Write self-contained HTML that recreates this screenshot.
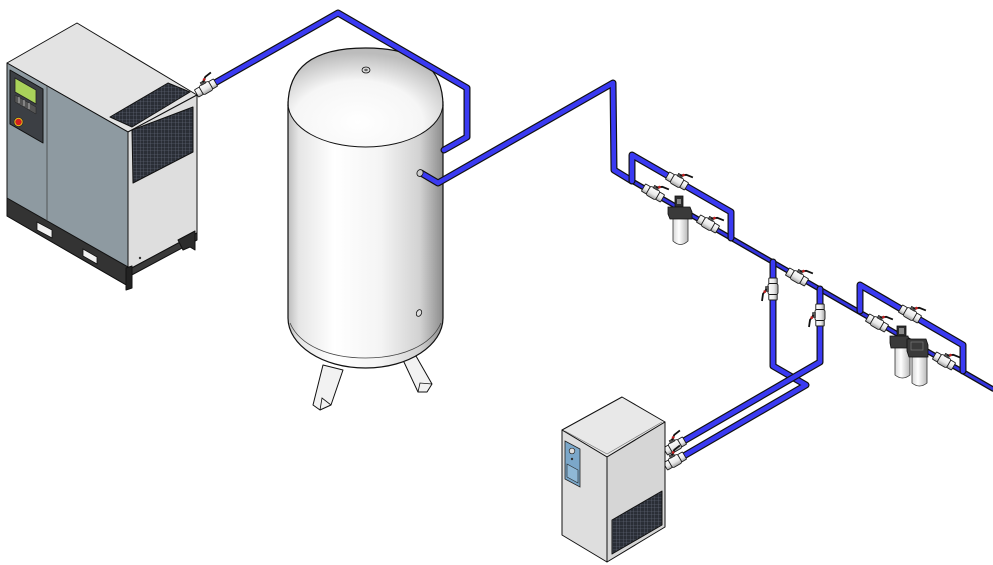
<!DOCTYPE html>
<html><head><meta charset="utf-8"><style>
html,body{margin:0;padding:0;background:#fff}
svg{display:block}
.po{fill:none;stroke:#111;stroke-width:7;stroke-linejoin:round;stroke-linecap:round}
.pi{fill:none;stroke:#3a3af2;stroke-width:4.6;stroke-linejoin:round;stroke-linecap:round}
.to{fill:none;stroke:#111;stroke-width:5.4;stroke-linecap:round}
.ti{fill:none;stroke:#3434e0;stroke-width:2.8;stroke-linecap:round}
.k{stroke:#111;stroke-width:1;stroke-linejoin:round}
</style></head><body>
<svg width="993" height="565" viewBox="0 0 993 565" xmlns="http://www.w3.org/2000/svg">
<defs>
<linearGradient id="tg" x1="0" x2="1" y1="0" y2="0">
<stop offset="0" stop-color="#bdbdbd"/><stop offset="0.07" stop-color="#e6e6e6"/>
<stop offset="0.3" stop-color="#ffffff"/><stop offset="0.6" stop-color="#f4f4f4"/>
<stop offset="0.85" stop-color="#d2d2d2"/><stop offset="1" stop-color="#8c8c8c"/>
</linearGradient>
<radialGradient id="dg" cx="0.45" cy="0.75" r="0.7">
<stop offset="0" stop-color="#ffffff"/><stop offset="0.6" stop-color="#f6f6f6"/><stop offset="1" stop-color="#bcbcbc"/>
</radialGradient>
<linearGradient id="vg" x1="0" x2="0" y1="0" y2="1">
<stop offset="0" stop-color="#ffffff"/><stop offset="0.6" stop-color="#e8e8e8"/><stop offset="1" stop-color="#a0a0a0"/>
</linearGradient>
<linearGradient id="bg" x1="0" x2="1" y1="0" y2="0">
<stop offset="0" stop-color="#d8d8d8"/><stop offset="0.4" stop-color="#ffffff"/><stop offset="1" stop-color="#b8b8b8"/>
</linearGradient>
<pattern id="grid" width="3.5" height="3.5" patternUnits="userSpaceOnUse">
<rect width="3.5" height="3.5" fill="#2a2e36"/>
<path d="M0 0H3.5M0 0V3.5" stroke="#6b7282" stroke-width="0.6"/>
</pattern>
<g id="valve">
<rect x="-11" y="-4.2" width="6" height="8.4" rx="0.8" fill="url(#vg)" stroke="#1a1a1a" stroke-width="0.9"/>
<rect x="5" y="-4.2" width="6" height="8.4" rx="0.8" fill="url(#vg)" stroke="#1a1a1a" stroke-width="0.9"/>
<rect x="-5.5" y="-5" width="11" height="10" rx="2" fill="url(#vg)" stroke="#1a1a1a" stroke-width="0.9"/>
<rect x="-2.5" y="-7.5" width="5" height="3" fill="#555" stroke="#111" stroke-width="0.5"/>
<path d="M0,-6.5 L5,-10 L12,-11" fill="none" stroke="#111" stroke-width="1.8"/>
<rect x="1.5" y="-9.5" width="2.4" height="2.4" fill="#c42020"/>
</g>
</defs>

<!-- ===== COMPRESSOR ===== -->
<polygon class="k" points="7,63 77,23 197,95 128,132" fill="#e3e3e3"/>
<polygon class="k" points="7,63 128,132 128,286 7,216" fill="#8e9aa1"/>
<polygon class="k" points="128,132 197,95 197,233 128,270" fill="#dedede"/>
<polygon class="k" points="7,198 128,267 128,286 7,216" fill="#333"/>
<polygon class="k" points="128,270 197,233 197,240 128,277" fill="#3a3a3a"/>
<polygon class="k" points="178,240 195,231 195,250 190,247 183,250" fill="#2c2c2c"/>
<polygon class="k" points="126,268 132,266 132,288 126,290" fill="#222"/>
<line x1="47" y1="86" x2="47" y2="221" stroke="#444" stroke-width="0.8"/>
<polygon points="37,222 52,230 52,238 37,230" fill="#f2f2f2" stroke="#111" stroke-width="0.8"/>
<polygon points="83,249 97,257 97,264 83,256" fill="#f2f2f2" stroke="#111" stroke-width="0.8"/>
<!-- control panel -->
<polygon class="k" points="10,70 43,89 43,143 10,124" fill="#3c3f44"/>
<polygon points="15,78 36,90 36,104 15,92" fill="#a9d25a" stroke="#222" stroke-width="0.8"/>
<polygon points="15,95 36,107 36,114 15,102" fill="#555" stroke="#222" stroke-width="0.5"/>
<path d="M19,97v6 M24,100v6 M29,103v6" stroke="#ccc" stroke-width="0.8"/>
<circle cx="18.5" cy="122" r="4.5" fill="#e5c21a" stroke="#222" stroke-width="0.6"/>
<circle cx="18.5" cy="122" r="3.2" fill="#d21e1e"/>
<!-- vents -->
<polygon class="k" points="110,117 168,83 190,92 132,127" fill="url(#grid)"/>
<polygon class="k" points="132,130 193,107 193,152 133,183" fill="url(#grid)"/>
<circle cx="140" cy="258" r="1.2" fill="#333"/>

<!-- ===== TANK ===== -->
<path d="M323,365 L343,370 L331,405 L320,410 L313,405 Z" fill="#f2f2f2" class="k"/>
<path d="M320,410 L322,398 L331,405" fill="none" stroke="#111" stroke-width="0.8"/>
<path d="M403,360 L416,356 L432,384 L427,392 L418,392 Z" fill="#f2f2f2" class="k"/>
<path d="M418,392 L420,383 L432,384" fill="none" stroke="#111" stroke-width="0.8"/>
<path d="M288,102 L288,318 C288,345 322,368 365.5,368 C409,368 443,345 443,318 L443,102 Z" fill="url(#tg)" stroke="#111" stroke-width="1.2"/>
<path d="M290,323 C300,346 330,358 365.5,358 C401,358 431,346 441,323" fill="none" stroke="#444" stroke-width="0.8"/>
<path d="M288,104 C288,68 312,48 365.5,48 C419,48 443,68 443,104 C443,128 408,147 365.5,147 C323,147 288,128 288,104 Z" fill="url(#dg)" stroke="none"/>
<path d="M288,106 C288,68 312,48 365.5,48 C419,48 443,68 443,106" fill="none" stroke="#111" stroke-width="1.2"/>
<path d="M288,103 C288,128 323,147 365.5,147 C408,147 443,128 443,103" fill="none" stroke="#111" stroke-width="1"/>
<ellipse cx="366" cy="70" rx="4" ry="3" fill="#ddd" stroke="#111" stroke-width="0.8"/>
<ellipse cx="366" cy="70" rx="1.8" ry="1.2" fill="#666"/>
<ellipse cx="419" cy="313" rx="2.5" ry="3.5" fill="#ddd" stroke="#111" stroke-width="0.8" transform="rotate(25 419 313)"/>

<!-- ===== PIPES (thick) ===== -->
<path class="po" d="M206,88 L338,13 L467,88 L467,137 L444,150"/>
<path class="pi" d="M206,88 L338,13 L467,88 L467,137 L444,150"/>
<path class="po" d="M421,173 L438,183 L613,83 L614,170 L632,181"/>
<path class="pi" d="M421,173 L438,183 L613,83 L614,170 L632,181"/>
<ellipse cx="420" cy="173" rx="3" ry="3.5" fill="#ccc" stroke="#111" stroke-width="0.8" transform="rotate(25 420 173)"/>

<!-- main line (thin) -->
<path class="to" d="M632,181 L993,389"/>
<path class="ti" d="M632,181 L993,389"/>

<!-- bypass loops -->
<path class="po" d="M632,181 L632,155 L731,212 L731,238"/>
<path class="pi" d="M632,181 L632,155 L731,212 L731,238"/>
<path class="po" d="M860,311 L860,285 L963,345 L963,371"/>
<path class="pi" d="M860,311 L860,285 L963,345 L963,371"/>

<!-- drop lines to dryer -->
<path class="po" d="M773,262 L773,366 L806,385 L682,457"/>
<path class="pi" d="M773,262 L773,366 L806,385 L682,457"/>
<path class="po" d="M820,289 L820,362 L682,442"/>
<path class="pi" d="M820,289 L820,362 L682,442"/>

<!-- ===== VALVES ===== -->
<use href="#valve" transform="translate(206,88) rotate(-30)"/>
<use href="#valve" transform="translate(677,181) rotate(30)"/>
<use href="#valve" transform="translate(653,193) rotate(30)"/>
<use href="#valve" transform="translate(708,224) rotate(30)"/>
<use href="#valve" transform="translate(797,277) rotate(30)"/>
<use href="#valve" transform="translate(910,314) rotate(30)"/>
<use href="#valve" transform="translate(877,323) rotate(30)"/>
<use href="#valve" transform="translate(944,361) rotate(30)"/>
<use href="#valve" transform="translate(773,289) rotate(90) scale(1,-1)"/>
<use href="#valve" transform="translate(820,315) rotate(90) scale(1,-1)"/>
<use href="#valve" transform="translate(675,446) rotate(-30)"/>
<use href="#valve" transform="translate(675,461) rotate(-30)"/>

<!-- ===== FILTERS ===== -->
<path d="M673,218 L688,218 L688,241 Q680.5,248 673,241 Z" fill="url(#bg)" stroke="#333" stroke-width="0.8"/>
<rect x="675" y="196" width="8" height="11" fill="#2e2e2e" stroke="#111" stroke-width="0.8"/>
<rect x="677" y="199" width="4" height="5" fill="#888"/>
<polygon points="668,207 690,207 692,212 692,219 670,219 668,214" fill="#3a3a3a" stroke="#111" stroke-width="0.8"/>

<path d="M895,347 L910,347 L910,375 Q902.5,381 895,375 Z" fill="url(#bg)" stroke="#333" stroke-width="0.8"/>
<path d="M912,357 L927,357 L927,383 Q919.5,389 912,383 Z" fill="url(#bg)" stroke="#333" stroke-width="0.8"/>
<rect x="897" y="326" width="9" height="11" fill="#2e2e2e" stroke="#111" stroke-width="0.8"/>
<rect x="899" y="328" width="5" height="6" fill="#888"/>
<polygon points="890,336 908,336 909,341 909,348 891,348 890,343" fill="#3a3a3a" stroke="#111" stroke-width="0.8"/>
<polygon points="907,339 926,339 928,345 928,357 909,357 907,351" fill="#3a3a3a" stroke="#111" stroke-width="0.8"/>
<polygon points="911,342 923,342 923,350 911,350" fill="none" stroke="#777" stroke-width="0.7"/>

<!-- ===== DRYER ===== -->
<polygon class="k" points="562,430 622,397 665,422 607,457" fill="#e8e8e8"/>
<polygon class="k" points="562,430 607,457 607,562 562,535" fill="#dedede"/>
<polygon class="k" points="607,457 665,422 665,527 607,562" fill="#d6d6d6"/>
<path d="M565,431 L607,454 L662,422" fill="none" stroke="#777" stroke-width="0.7"/>
<polygon points="565,441 580,449 580,487 565,479" fill="#7ba7c9" stroke="#222" stroke-width="0.8"/>
<circle cx="572" cy="451" r="2.8" fill="#ddd" stroke="#222" stroke-width="0.7"/>
<circle cx="572" cy="459" r="1.2" fill="#333"/>
<polygon points="567,464 578,470 578,483 567,477" fill="#8fb8d6" stroke="#222" stroke-width="0.6"/>
<polygon class="k" points="612,520 662,491 662,525 612,554" fill="url(#grid)"/>
</svg>
</body></html>
